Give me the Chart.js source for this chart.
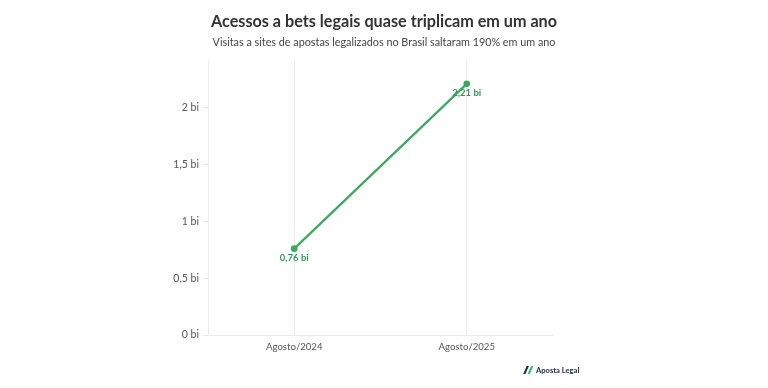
<!DOCTYPE html>
<html>
<head>
<meta charset="utf-8">
<script src="https://cdn.jsdelivr.net/npm/chart.js@4/dist/chart.umd.min.js"></script>
<style>
html,body{margin:0;padding:0;background:#fff;}
#wrap{position:relative;width:768px;height:388px;overflow:hidden;font-family:Lato,"Noto Sans",sans-serif;}
#title{position:absolute;top:11px;left:0;width:768px;text-align:center;font-size:16.2px;font-weight:700;color:#333;}
#sub{position:absolute;top:35px;left:0;width:768px;text-align:center;font-size:10.8px;color:#444;}
#logo{position:absolute;left:523px;top:365px;font-size:7.6px;font-weight:700;color:#1f2a44;display:flex;align-items:center;gap:2px;}
canvas{position:absolute;left:0;top:0;}
</style>
</head>
<body>
<div id="wrap">
<canvas id="c" width="768" height="388"></canvas>
<div id="title">Acessos a bets legais quase triplicam em um ano</div>
<div id="sub">Visitas a sites de apostas legalizados no Brasil saltaram 190% em um ano</div>
<div id="logo"><svg width="11" height="8" viewBox="0 0 12 9"><polygon points="0,9 4,0 6.5,0 2.5,9" fill="#1f2a44"/><polygon points="5,9 9,0 11.5,0 7.5,9" fill="#2fbf7a"/></svg><span>Aposta Legal</span></div>
</div>
<script>
const categories = ["Agosto/2024", "Agosto/2025"];
const visits = [0.76, 2.21];
const valueLabels = ["0,76 bi", "2,21 bi"];
const yTicks = [0, 0.5, 1, 1.5, 2];

const fmt = v => (v === 0 ? "0" : String(v).replace(".", ",")) + " bi";

const labelPlugin = {
  id: "valueLabels",
  afterDatasetsDraw(chart) {
    const ctx = chart.ctx;
    const meta = chart.getDatasetMeta(0);
    ctx.save();
    ctx.font = "bold 9.5px Lato, sans-serif";
    ctx.fillStyle = "#2e9a58";
    ctx.textAlign = "center";
    ctx.textBaseline = "middle";
    meta.data.forEach((pt, i) => {
      ctx.fillText(valueLabels[i], pt.x, pt.y + 9);
    });
    ctx.restore();
  }
};

new Chart(document.getElementById("c"), {
  type: "line",
  data: {
    labels: categories,
    datasets: [{
      data: visits,
      borderColor: "#3aa85e",
      backgroundColor: "#3aa85e",
      borderWidth: 2.2,
      pointRadius: 2.2,
      pointHoverRadius: 2.2,
      tension: 0
    }]
  },
  options: {
    responsive: false,
    animation: false,
    layout: { padding: { left: 160, right: 215, top: 60, bottom: 28 } },
    plugins: { legend: { display: false }, tooltip: { enabled: false } },
    scales: {
      x: {
        offset: true,
        grid: { offset: false, color: "#ececec", lineWidth: 1, drawTicks: false },
        border: { color: "#ececec" },
        ticks: { color: "#555", font: { size: 9.6, family: "Lato, sans-serif" }, padding: 6 },
        afterFit(s) { s.height = 25; }
      },
      y: {
        min: 0,
        max: 2.42,
        afterBuildTicks(s) { s.ticks = yTicks.map(v => ({ value: v })); },
        grid: { drawOnChartArea: false, color: "#e6e6e6", tickLength: 5 },
        border: { color: "#ececec" },
        ticks: { color: "#555", font: { size: 10.5, family: "Lato, sans-serif" }, padding: 4, callback: v => fmt(v) },
        afterFit(s) { s.width = 48; }
      }
    }
  },
  plugins: [labelPlugin]
});
</script>
</body>
</html>
